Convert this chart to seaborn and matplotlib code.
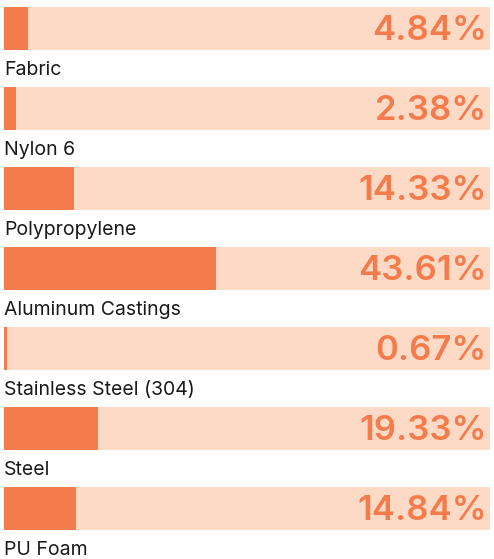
import matplotlib.pyplot as plt
import seaborn as sns
import pandas as pd

sns.set_theme(style="white")
plt.rcParams['font.family'] = ['Inter', 'DejaVu Sans']

# Dados
materials = ["Fabric", "Nylon 6", "Polypropylene", "Aluminum Castings",
             "Stainless Steel (304)", "Steel", "PU Foam"]
shares = [4.84, 2.38, 14.33, 43.61, 0.67, 19.33, 14.84]
total = [100] * len(materials)

df = pd.DataFrame({"material": materials, "share": shares, "total": total})

orange = "#F47C4C"
peach = "#FDDAC6"

f = plt.figure(figsize=(4.94, 5.59), dpi=100)
ax = f.add_axes([0, 0, 1, 1])

# fundo e barra preenchida
sns.barplot(data=df, x="total", y="material", color=peach, saturation=1,
            width=0.54, linewidth=0, ax=ax)
sns.barplot(data=df, x="share", y="material", color=orange, saturation=1,
            width=0.54, linewidth=0, ax=ax)

for i, (name, val) in enumerate(zip(materials, shares)):
    ax.text(99.3, i + 0.03, f"{val:.2f}%", ha="right", va="center",
            fontsize=25, fontweight="semibold", color=orange)
    ax.text(0, i + 0.52, name, ha="left", va="center",
            fontsize=14, color="#1a1a1a")

ax.set_xlim(-0.82, 100.82)
ax.set_ylim(6.63, -0.356)
ax.axis("off")

f.savefig("out.png", dpi=100)
